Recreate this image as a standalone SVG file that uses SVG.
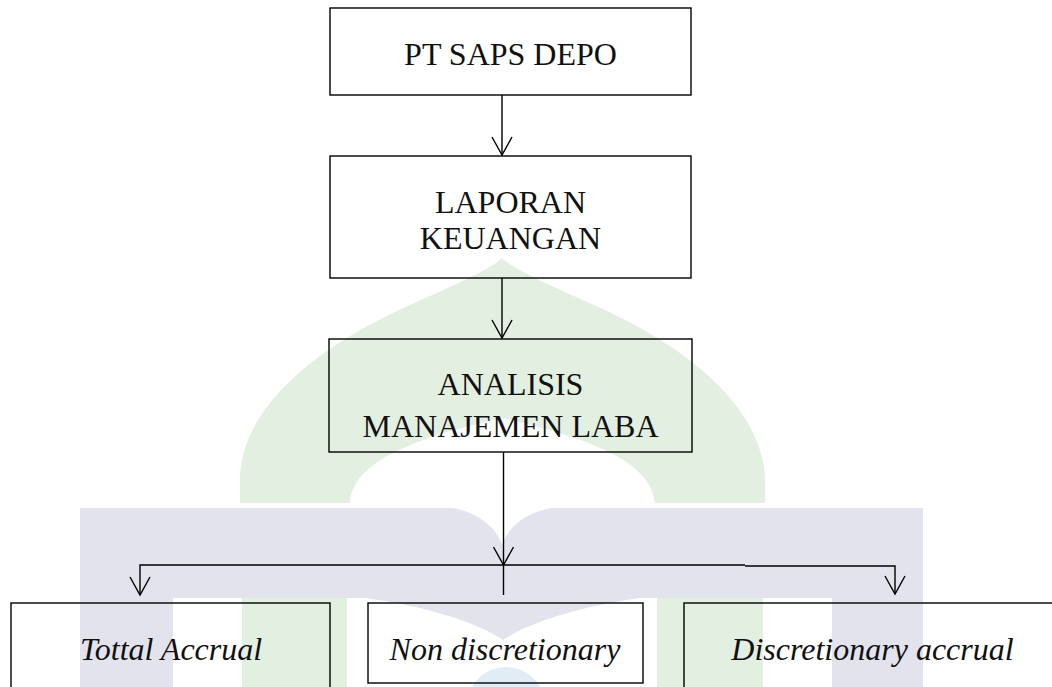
<svg xmlns="http://www.w3.org/2000/svg" width="1052" height="687" viewBox="0 0 1052 687">
  <style>
    .box { fill: none; stroke: #000; stroke-width: 1.4; }
    .lbl { font-family: "Liberation Serif", "Times New Roman", serif; font-size: 32px; fill: #111; text-anchor: middle; }
    .it { font-style: italic; }
    .wire { fill: none; stroke: #000; stroke-width: 1.4; }
  </style>
  <defs>
    <marker id="arr" viewBox="-20 -12 22 24" refX="0" refY="0" markerWidth="22" markerHeight="24" markerUnits="userSpaceOnUse" orient="auto" overflow="visible">
      <path d="M -18 -10 L 0 0 L -18 10" fill="none" stroke="#000" stroke-width="1.4"/>
    </marker>
  </defs>
  <rect width="1052" height="687" fill="#fff"/>
  <g id="watermark">
    <path fill="#e3efe1" d="M 240 503 L 240 478 C 242 405, 320 345, 410 305 C 460 283, 492 268, 502 258 C 512 268, 544 283, 594 305 C 684 345, 762 405, 765 478 L 765 503 L 655 503 C 652 462, 590 438, 502 418 C 414 438, 352 462, 350 503 Z"/>
    <rect x="242" y="598" width="105" height="89" fill="#e3efe1"/>
    <rect x="657" y="598" width="106" height="89" fill="#e3efe1"/>
    <path fill="#e3e3ee" d="M 80 508 L 452 508 C 478 512, 497 528, 502 545 C 507 528, 526 512, 552 508 L 923 508 L 923 687 L 832 687 L 832 598 L 640 598 C 590 605, 532 620, 503 640 C 474 620, 416 605, 366 598 L 173 598 L 173 687 L 80 687 Z"/>
    <circle cx="506" cy="706" r="39" fill="#e0edf5"/>
  </g>
  <g id="n1">
    <rect class="box" x="330" y="8" width="361" height="87"/>
    <text class="lbl" x="510.5" y="65">PT SAPS DEPO</text>
  </g>
  <g id="n2">
    <rect class="box" x="330" y="156" width="361" height="122"/>
    <text class="lbl" x="510.5" y="213">LAPORAN</text>
    <text class="lbl" x="510.5" y="249">KEUANGAN</text>
  </g>
  <g id="n3">
    <rect class="box" x="329" y="339" width="363" height="113"/>
    <text class="lbl" x="510.5" y="395">ANALISIS</text>
    <text class="lbl" x="510.5" y="437">MANAJEMEN LABA</text>
  </g>
  <g id="n4">
    <rect class="box" x="11" y="603" width="319" height="100"/>
    <text class="lbl it" x="171" y="660">Tottal Accrual</text>
  </g>
  <g id="n5">
    <rect class="box" x="368" y="603" width="275" height="80"/>
    <text class="lbl it" x="505" y="660">Non discretionary</text>
  </g>
  <g id="n6">
    <rect class="box" x="684" y="603" width="377" height="100"/>
    <text class="lbl it" x="872.5" y="660">Discretionary accrual</text>
  </g>
  <g id="connectors">
    <path class="wire" d="M 502 95 L 502 155" marker-end="url(#arr)"/>
    <path class="wire" d="M 502 278 L 502 338" marker-end="url(#arr)"/>
    <path class="wire" d="M 503.5 452 L 503.5 565" marker-end="url(#arr)"/>
    <path class="wire" d="M 503.5 565 L 503.5 595"/>
    <path class="wire" d="M 745 565 L 140 565 L 140 595" marker-end="url(#arr)"/>
    <path class="wire" d="M 745 566 L 895 566 L 895 594" marker-end="url(#arr)"/>
  </g>
</svg>
